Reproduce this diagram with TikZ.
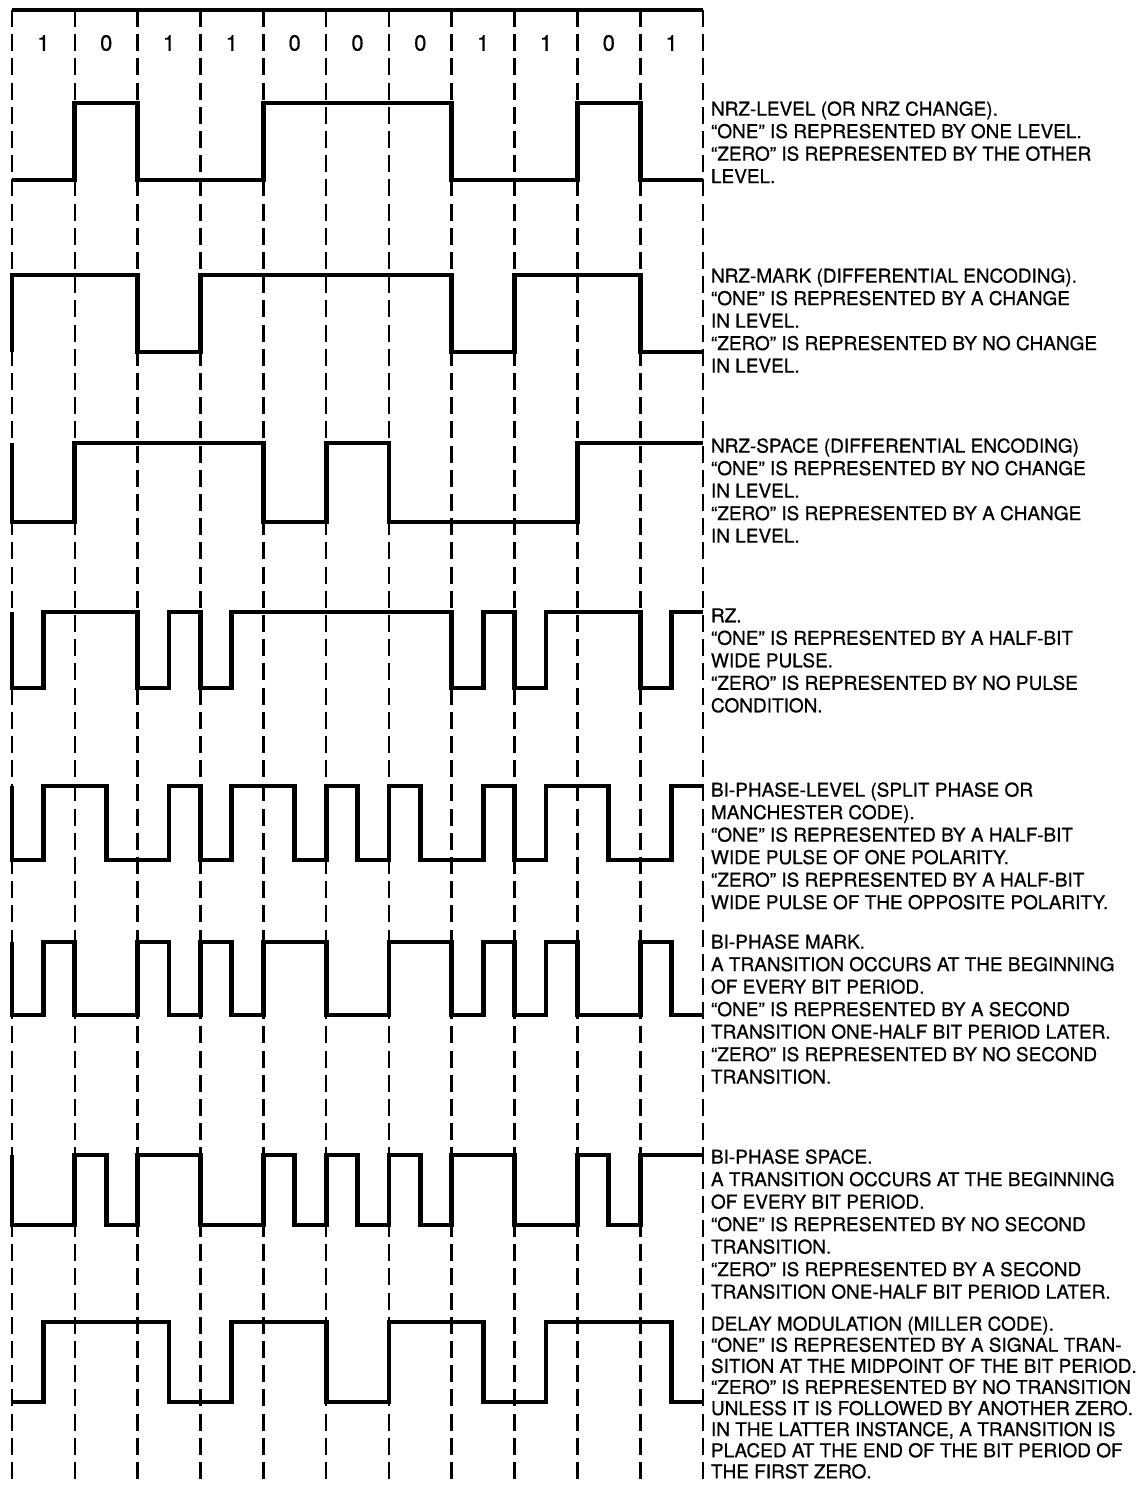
\documentclass[tikz,border=0pt]{standalone}
\usepackage{fontspec}
\setmainfont{TeX Gyre Heros}
\newfontfamily\scanfont{TeX Gyre Heros}[Ligatures=TeX, FakeBold=0.6]
\usepackage{tikz}
\usetikzlibrary{calc}

\begin{document}
\begin{tikzpicture}[x=31.41pt, y=-0.5pt,
  wave/.style={line width=2.4pt, line join=miter},
  cellline/.style={line width=1.3pt, dash pattern=on 8.5pt off 3.6pt},
  digit/.style={font=\scanfont\fontsize{11}{13}\selectfont},
  desc/.style={anchor=north west, inner sep=0pt, align=left, font=\scanfont\fontsize{9.5}{11.25}\selectfont}]
  \useasboundingbox (-0.191,0) rectangle (18.036,1486);
  % Bit cells and bit values
  \foreach \i in {0,...,11} \draw[cellline] (\i,10) -- (\i,1486);
  \draw[wave] (0,10) -- (11,10);
  \foreach \b [count=\i from 0] in {1,0,1,1,0,0,0,1,1,0,1}
    \node[digit] (bit\i) at (\i+0.5,43) {\b};
  % NRZ-L
  \draw[wave] (0,180) -- (1,180) -- (1,103) -- (2,103) -- (2,180) -- (4,180) -- (4,103) -- (7,103) -- (7,180) -- (9,180) -- (9,103) -- (10,103) -- (10,180) -- (11,180);
  \node[desc] (nrzl) at (11.12,101) {NRZ-LEVEL (OR NRZ CHANGE).\\``ONE'' IS REPRESENTED BY ONE LEVEL.\\``ZERO'' IS REPRESENTED BY THE OTHER\\LEVEL.};
  % NRZ-M
  \draw[wave] (0,352) -- (0,275) -- (2,275) -- (2,352) -- (3,352) -- (3,275) -- (7,275) -- (7,352) -- (8,352) -- (8,275) -- (10,275) -- (10,352) -- (11,352);
  \node[desc] (nrzm) at (11.12,268) {NRZ-MARK (DIFFERENTIAL ENCODING).\\``ONE'' IS REPRESENTED BY A CHANGE\\IN LEVEL.\\``ZERO'' IS REPRESENTED BY NO CHANGE\\IN LEVEL.};
  % NRZ-S
  \draw[wave] (0,443) -- (0,522) -- (1,522) -- (1,443) -- (4,443) -- (4,522) -- (5,522) -- (5,443) -- (6,443) -- (6,522) -- (9,522) -- (9,443) -- (11,443);
  \node[desc] (nrzs) at (11.12,438) {NRZ-SPACE (DIFFERENTIAL ENCODING)\\``ONE'' IS REPRESENTED BY NO CHANGE\\IN LEVEL.\\``ZERO'' IS REPRESENTED BY A CHANGE\\IN LEVEL.};
  % RZ
  \draw[wave] (0,612) -- (0,688) -- (0.5,688) -- (0.5,612) -- (2,612) -- (2,688) -- (2.5,688) -- (2.5,612) -- (3,612) -- (3,688) -- (3.5,688) -- (3.5,612) -- (7,612) -- (7,688) -- (7.5,688) -- (7.5,612) -- (8,612) -- (8,688) -- (8.5,688) -- (8.5,612) -- (10,612) -- (10,688) -- (10.5,688) -- (10.5,612) -- (11,612);
  \node[desc] (rz) at (11.12,608) {RZ.\\``ONE'' IS REPRESENTED BY A HALF-BIT\\WIDE PULSE.\\``ZERO'' IS REPRESENTED BY NO PULSE\\CONDITION.};
  % Bi-phase level
  \draw[wave] (0,786) -- (0,860) -- (0.5,860) -- (0.5,786) -- (1.5,786) -- (1.5,860) -- (2.5,860) -- (2.5,786) -- (3,786) -- (3,860) -- (3.5,860) -- (3.5,786) -- (4.5,786) -- (4.5,860) -- (5,860) -- (5,786) -- (5.5,786) -- (5.5,860) -- (6,860) -- (6,786) -- (6.5,786) -- (6.5,860) -- (7.5,860) -- (7.5,786) -- (8,786) -- (8,860) -- (8.5,860) -- (8.5,786) -- (9.5,786) -- (9.5,860) -- (10.5,860) -- (10.5,786) -- (11,786);
  \node[desc] (bpl) at (11.12,782) {BI-PHASE-LEVEL (SPLIT PHASE OR\\MANCHESTER CODE).\\``ONE'' IS REPRESENTED BY A HALF-BIT\\WIDE PULSE OF ONE POLARITY.\\``ZERO'' IS REPRESENTED BY A HALF-BIT\\WIDE PULSE OF THE OPPOSITE POLARITY.};
  % Bi-phase mark
  \draw[wave] (0,942) -- (0,1015) -- (0.5,1015) -- (0.5,942) -- (1,942) -- (1,1015) -- (2,1015) -- (2,942) -- (2.5,942) -- (2.5,1015) -- (3,1015) -- (3,942) -- (3.5,942) -- (3.5,1015) -- (4,1015) -- (4,942) -- (5,942) -- (5,1015) -- (6,1015) -- (6,942) -- (7,942) -- (7,1015) -- (7.5,1015) -- (7.5,942) -- (8,942) -- (8,1015) -- (8.5,1015) -- (8.5,942) -- (9,942) -- (9,1015) -- (10,1015) -- (10,942) -- (10.5,942) -- (10.5,1015) -- (11,1015);
  \node[desc] (bpm) at (11.12,934) {BI-PHASE MARK.\\A TRANSITION OCCURS AT THE BEGINNING\\OF EVERY BIT PERIOD.\\``ONE'' IS REPRESENTED BY A SECOND\\TRANSITION ONE-HALF BIT PERIOD LATER.\\``ZERO'' IS REPRESENTED BY NO SECOND\\TRANSITION.};
  % Bi-phase space
  \draw[wave] (0,1155) -- (0,1225) -- (1,1225) -- (1,1155) -- (1.5,1155) -- (1.5,1225) -- (2,1225) -- (2,1155) -- (3,1155) -- (3,1225) -- (4,1225) -- (4,1155) -- (4.5,1155) -- (4.5,1225) -- (5,1225) -- (5,1155) -- (5.5,1155) -- (5.5,1225) -- (6,1225) -- (6,1155) -- (6.5,1155) -- (6.5,1225) -- (7,1225) -- (7,1155) -- (8,1155) -- (8,1225) -- (9,1225) -- (9,1155) -- (9.5,1155) -- (9.5,1225) -- (10,1225) -- (10,1155) -- (11,1155);
  \node[desc] (bps) at (11.12,1149) {BI-PHASE SPACE.\\A TRANSITION OCCURS AT THE BEGINNING\\OF EVERY BIT PERIOD.\\``ONE'' IS REPRESENTED BY NO SECOND\\TRANSITION.\\``ZERO'' IS REPRESENTED BY A SECOND\\TRANSITION ONE-HALF BIT PERIOD LATER.};
  % Delay modulation
  \draw[wave] (0,1402) -- (0.5,1402) -- (0.5,1322) -- (2.5,1322) -- (2.5,1402) -- (3.5,1402) -- (3.5,1322) -- (5,1322) -- (5,1402) -- (6,1402) -- (6,1322) -- (7.5,1322) -- (7.5,1402) -- (8.5,1402) -- (8.5,1322) -- (10.5,1322) -- (10.5,1402) -- (11,1402);
  \node[desc, font=\scanfont\fontsize{9.5}{10.55}\selectfont] (dm) at (11.12,1316) {DELAY MODULATION (MILLER CODE).\\``ONE'' IS REPRESENTED BY A SIGNAL TRAN-\\SITION AT THE MIDPOINT OF THE BIT PERIOD.\\``ZERO'' IS REPRESENTED BY NO TRANSITION\\UNLESS IT IS FOLLOWED BY ANOTHER ZERO.\\IN THE LATTER INSTANCE, A TRANSITION IS\\PLACED AT THE END OF THE BIT PERIOD OF\\THE FIRST ZERO.};
\end{tikzpicture}
\end{document}
